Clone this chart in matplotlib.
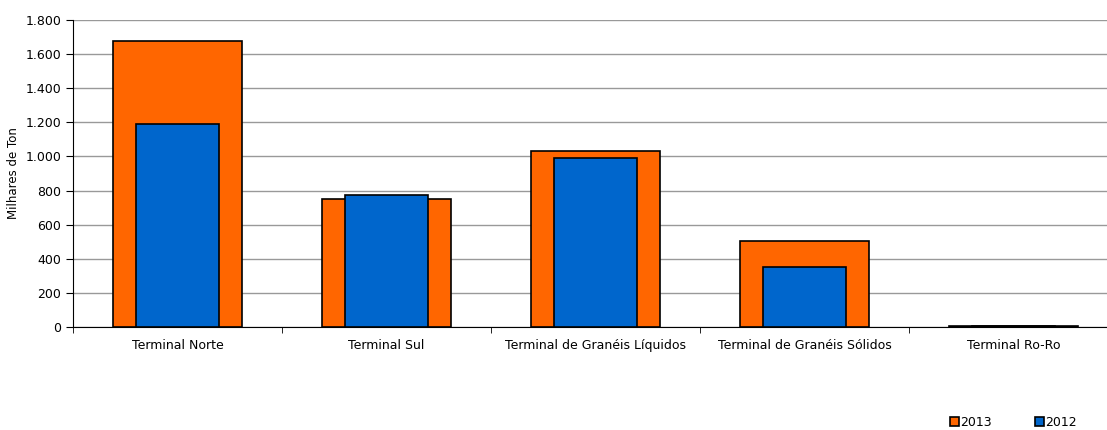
import numpy as np
import matplotlib.pyplot as plt
from matplotlib.ticker import FuncFormatter

categories = ['Terminal Norte', 'Terminal Sul', 'Terminal de Granéis Líquidos',
              'Terminal de Granéis Sólidos', 'Terminal Ro-Ro']
v2013 = [1677, 750, 1032, 504, 8]
v2012 = [1190, 774, 991, 352, 6]

W, H = 1107, 430
fig = plt.figure(figsize=(W/100, H/100), dpi=100)
ax = fig.add_axes([73/W, (H-327)/H, 5*209/W, 307/H])

x = np.arange(len(categories))
ax.bar(x, v2013, width=0.62, color='#ff6600', edgecolor='black', lw=1.2,
       label='2013', zorder=2)
ax.bar(x, v2012, width=0.40, color='#0066cc', edgecolor='black', lw=1.2,
       label='2012', zorder=3)

ax.set_xlim(-0.5, 4.5)
ax.set_ylim(0, 1800)
ax.set_yticks(np.arange(0, 1801, 200))
ax.yaxis.set_major_formatter(FuncFormatter(lambda v, p: f'{int(v):,}'.replace(',', '.')))
ax.set_xticks(x)
ax.set_xticklabels(categories, va='baseline')
ax.set_xticks(np.arange(-0.5, 4.6, 1), minor=True)
ax.tick_params(axis='x', which='major', length=0, pad=16, labelsize=9)
ax.tick_params(axis='x', which='minor', length=4, direction='out')
ax.tick_params(axis='y', length=5, direction='out', labelsize=9)
ax.grid(axis='y', color='#999999', lw=1, zorder=0)
ax.set_axisbelow(True)
for s in ['top', 'right']:
    ax.spines[s].set_visible(False)
ax.set_ylabel('Milhares de Ton', fontsize=8.5, labelpad=4)

fig.legend(loc='lower right', bbox_to_anchor=(1078/W, 0.0), ncol=2, frameon=False,
           fontsize=9, handlelength=0.7, handleheight=0.7, handletextpad=0.1,
           columnspacing=3.5, borderaxespad=0.0, borderpad=0.1)

fig.savefig('out.png', dpi=100)
